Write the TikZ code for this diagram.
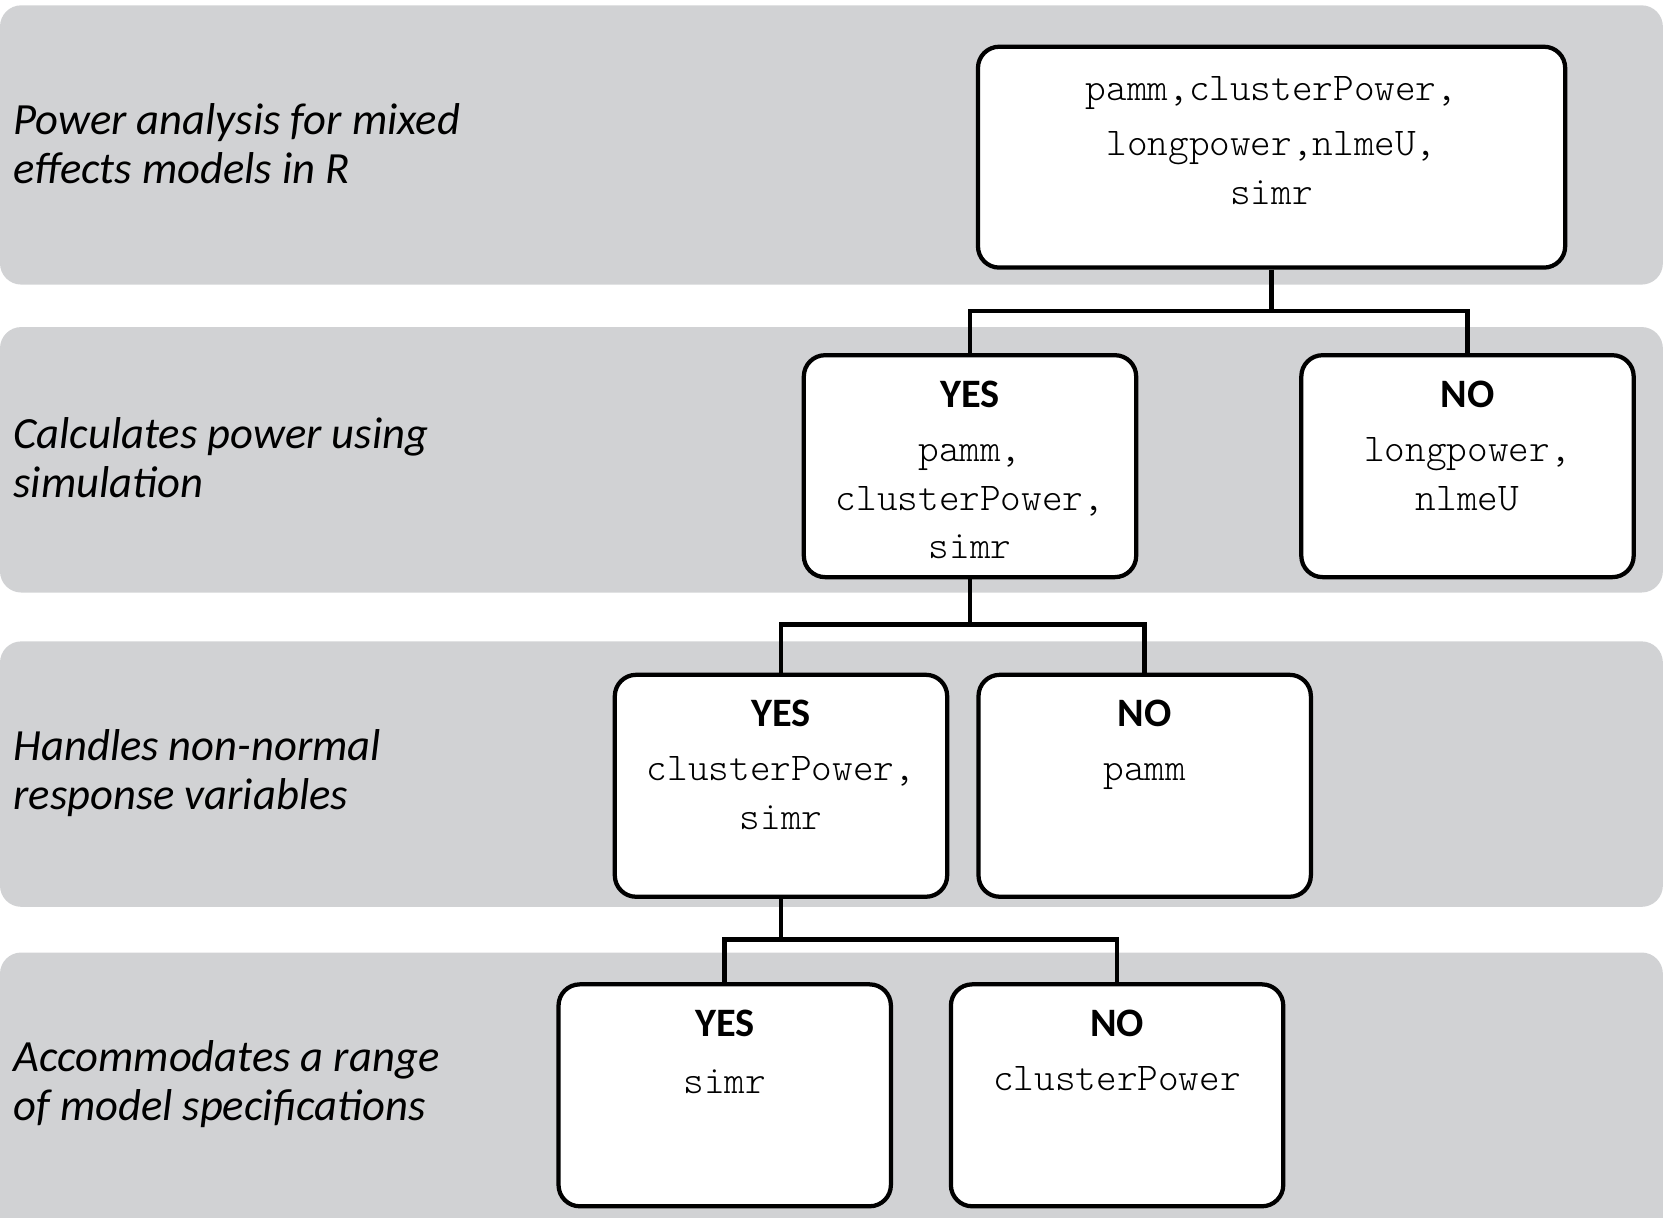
\documentclass[tikz,border=0pt]{standalone}
\usepackage{fontspec}
\setmainfont{Carlito}
\newfontfamily\monofont{Latin Modern Mono Light}
\usetikzlibrary{positioning}
\definecolor{bandgray}{RGB}{209,210,212}

\tikzset{
  band/.style={fill=bandgray, rounded corners=6pt},
  box/.style={draw, line width=1.2pt, rounded corners=6pt, fill=white, inner sep=0pt,
    minimum width=93.9pt, minimum height=62.7pt},
  widebox/.style={minimum width=165.9pt},
  pkgs/.style={align=center, inner sep=0pt, anchor=north,
    font=\fontsize{11.1}{13.8}\selectfont\monofont},
  question/.style={anchor=west, align=left, inner sep=0pt,
    font=\fontsize{12.6}{13.8}\selectfont\itshape},
  link/.style={line width=1.3pt}
}
\newcommand{\answer}[1]{{\fontsize{11.4}{13.8}\selectfont\rmfamily\bfseries #1}}

\begin{document}
\begin{tikzpicture}[x=0.3pt, y=-0.3pt]
	\clip[use as bounding box] (0,0) rectangle (1568,1147);
	% grey bands
	\fill[band] (0,5) rectangle (1566,268);
	\fill[band] (0,308) rectangle (1566,558);
	\fill[band] (0,604) rectangle (1566,854);
	\fill[band] (0,897) rectangle (1566,1170);
	% questions
	\node[question] (q1) at (12,135) {Power analysis for mixed\\effects models in R};
	\node[question] (q2) at (12,431) {Calculates power using\\simulation};
	\node[question] (q3) at (12,728) {Handles non-normal\\response variables};
	\node[question] (q4) at (12,1021) {Accommodates a range\\of model specifications};
	% boxes
	\node[box, widebox, minimum height=62.4pt] (top) at (1197.5,148) {};
	\node[box] (yes2) at (913.5,439) {};
	\node[box] (no2) at (1382,439) {};
	\node[box] (yes3) at (735.5,740) {};
	\node[box] (no3) at (1078,740) {};
	\node[box] (yes4) at (682.5,1031.5) {};
	\node[box] (no4) at (1052,1031.5) {};
	% box texts
	\node[pkgs, below=8.7pt of top.north] (ttop) {pamm,clusterPower,\\[1.8pt]longpower,nlmeU,\\simr};
	\node[pkgs, below=7.6pt of yes2.north] (tyes2) {\answer{YES}\\[1.5pt]pamm,\\clusterPower,\\simr};
	\node[pkgs, below=7.6pt of no2.north] (tno2) {\answer{NO}\\[1.5pt]longpower,\\nlmeU};
	\node[pkgs, below=7.6pt of yes3.north] (tyes3) {\answer{YES}\\[1.5pt]clusterPower,\\simr};
	\node[pkgs, below=7.6pt of no3.north] (tno3) {\answer{NO}\\[1.5pt]pamm};
	\node[pkgs, below=7.6pt of yes4.north] (tyes4) {\answer{YES}\\[2.3pt]simr};
	\node[pkgs, below=7.6pt of no4.north] (tno4) {\answer{NO}\\[1.5pt]clusterPower};
	% connectors
	\coordinate (f1) at (1197.5,293);
	\coordinate (f2) at (913.5,588);
	\coordinate (f3) at (735.5,885);
	\draw[link] (top.south) -- (f1);
	\draw[link] (yes2.north) |- (f1) -| (no2.north);
	\draw[link] (yes2.south) -- (f2);
	\draw[link] (yes3.north) |- (f2) -| (no3.north);
	\draw[link] (yes3.south) -- (f3);
	\draw[link] (yes4.north) |- (f3) -| (no4.north);
\end{tikzpicture}
\end{document}
